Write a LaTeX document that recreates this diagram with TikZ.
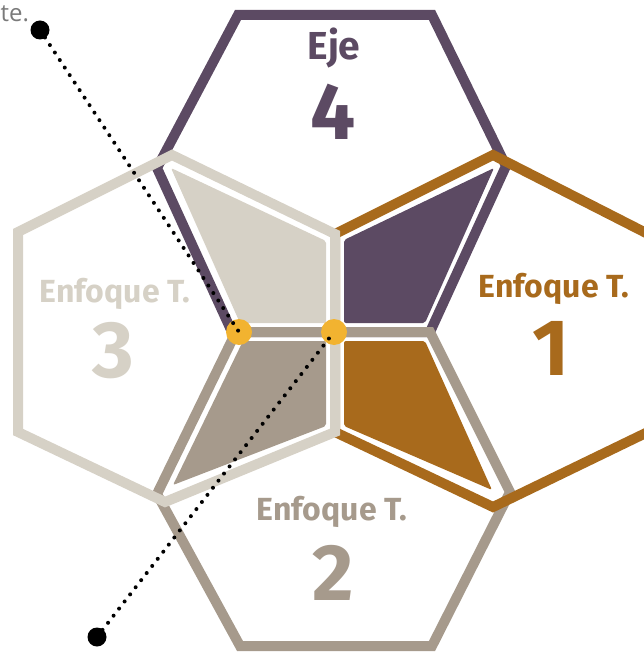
\documentclass[tikz,border=0pt]{standalone}
\usepackage{fontspec}
\setmainfont{Fira Sans}
\newfontfamily\notefont{Open Sans}
\definecolor{ejec}{HTML}{5C4A63}
\definecolor{enfa}{HTML}{A86A1C}
\definecolor{enfb}{HTML}{A69A8C}
\definecolor{enfc}{HTML}{D6D1C6}
\definecolor{dotc}{HTML}{F2B330}
\definecolor{notec}{HTML}{7A7A7A}
\tikzset{
  hexline/.style={line width=10pt, line join=miter},
  quadfill/.style={rounded corners=2pt},
  lbl/.style={font=\bfseries\fontsize{32}{32}\selectfont, anchor=base, inner sep=0pt},
  num/.style={font=\bfseries\fontsize{80}{80}\selectfont, anchor=base, inner sep=0pt},
  dotline/.style={line width=4pt, line cap=round, dash pattern=on 0pt off 9pt},
  yel/.style={circle, fill=dotc, minimum size=26pt, inner sep=0pt},
  blk/.style={circle, fill=black, minimum size=19pt, inner sep=0pt}
}
\begin{document}
\begin{tikzpicture}[x=1pt,y=-1pt]
\useasboundingbox (0,0) rectangle (643,652);
% overlap fills
\fill[quadfill, enfc] (171,168) -- (326,241) -- (326,323) -- (240,323) -- cycle;
\fill[quadfill, ejec] (344,240) -- (494,168) -- (425,323) -- (344,323) -- cycle;
\fill[quadfill, enfa] (344,341) -- (425,341) -- (492,490) -- (344,426) -- cycle;
\fill[quadfill, enfb] (243,341) -- (326,341) -- (326,426) -- (173,485) -- cycle;
% hexagon outlines
\draw[hexline, ejec] (238,15) -- (432,15) -- (506,166) -- (430,332) -- (232,332) -- (157,168) -- cycle;
\draw[hexline, enfb] (236,332) -- (430,332) -- (510,492) -- (432,646) -- (240,646) -- (157,494) -- cycle;
\draw[hexline, enfa] (493,155) -- (652,236) -- (652,430) -- (493,507) -- (335,432) -- (335,234) -- cycle;
\draw[hexline, enfc] (172,155) -- (18,232) -- (18,432) -- (165,502) -- (335,432) -- (335,234) -- cycle;
% labels
\node[lbl, text=ejec, font=\bfseries\fontsize{39}{39}\selectfont] (t4) at (334,60) {Eje};
\node[num, text=ejec] (n4) at (333,140) {4};
\node[lbl, text=enfa] (t1) at (554,297) {Enfoque T.};
\node[num, text=enfa] (n1) at (551,375) {1};
\node[lbl, text=enfc] (t3) at (115,302) {Enfoque T.};
\node[num, text=enfc] (n3) at (113,377) {3};
\node[lbl, text=enfb] (t2) at (332,520) {Enfoque T.};
\node[num, text=enfb] (n2) at (333,600) {2};
% note text
\node[anchor=base west, inner sep=0pt, text=notec, font=\notefont\fontsize{24}{24}\selectfont] (note) at (0.5,22) {te.};
% connectors
\node[yel] (ya) at (239,332) {};
\node[yel] (yb) at (334,332) {};
\node[blk] (ba) at (40,30) {};
\node[blk] (bb) at (97,637) {};
\draw[dotline] (ba.center) -- (ya.center);
\draw[dotline] (bb.center) -- (yb.center);
\end{tikzpicture}
\end{document}
